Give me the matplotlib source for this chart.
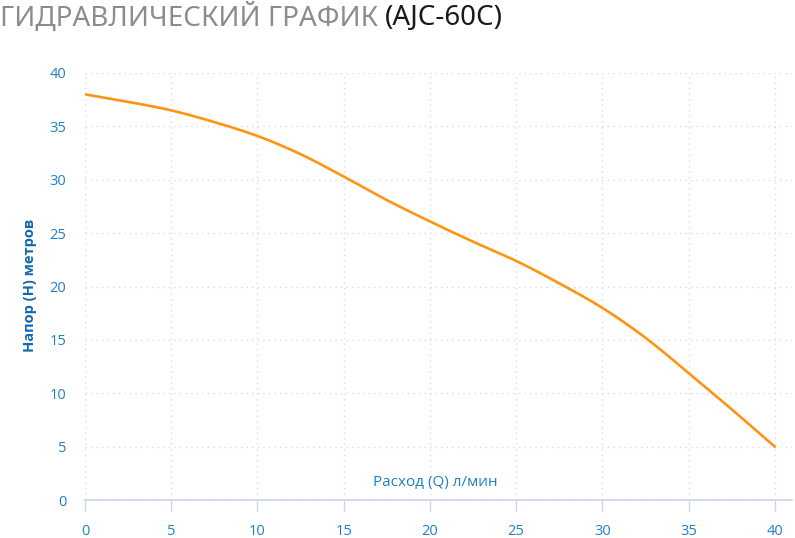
import numpy as np
import matplotlib
matplotlib.use("Agg")
import matplotlib.pyplot as plt

# Data
flow_lpm = [0, 2.5, 5, 7.5, 10, 12.5, 15, 17.5, 20, 22.5, 25, 27.5, 30, 32.5, 35, 37.5, 40]
head_m = [38.0, 37.3, 36.5, 35.4, 34.1, 32.4, 30.3, 28.1, 26.1, 24.2, 22.4, 20.3, 18.0, 15.2, 11.9, 8.5, 5.0]
x_ticks = [0, 5, 10, 15, 20, 25, 30, 35, 40]
y_ticks = [0, 5, 10, 15, 20, 25, 30, 35, 40]

title_main = "ГИДРАВЛИЧЕСКИЙ ГРАФИК "
title_model = "(AJC-60C)"
x_label = "Расход (Q) л/мин"
y_label = "Напор (H) метров"


def smooth_curve(x, y, n=400):
    """Cubic Hermite (Catmull-Rom tangents) drawing of the line (line smoothing)."""
    x = np.asarray(x, float)
    y = np.asarray(y, float)
    h = np.diff(x)
    d = np.diff(y) / h
    m = np.zeros_like(y)
    m[0], m[-1] = d[0], d[-1]
    m[1:-1] = (y[2:] - y[:-2]) / (x[2:] - x[:-2])
    xs = np.linspace(x[0], x[-1], n)
    idx = np.clip(np.searchsorted(x, xs) - 1, 0, len(x) - 2)
    t = (xs - x[idx]) / h[idx]
    h00 = 2 * t**3 - 3 * t**2 + 1
    h10 = t**3 - 2 * t**2 + t
    h01 = -2 * t**3 + 3 * t**2
    h11 = t**3 - t**2
    ys = h00 * y[idx] + h10 * h[idx] * m[idx] + h01 * y[idx + 1] + h11 * h[idx] * m[idx + 1]
    return xs, ys


blue = "#2080c4"
label_blue = "#1168b0"
axis_col = "#c9d3ea"
grid_col = "#dcdcdc"

fig = plt.figure(figsize=(7.95, 5.38), dpi=100)
ax = fig.add_axes([85 / 795, 1 - 500 / 538, (792 - 85) / 795, (500 - 73) / 538])

xs, ys = smooth_curve(flow_lpm, head_m)
ax.plot(xs, ys, color="#ff9412", lw=1.9, solid_capstyle="round", zorder=3)

ax.set_xlim(0, 41)
ax.set_ylim(0, 40)
ax.set_xticks(x_ticks)
ax.set_yticks(y_ticks)
ax.grid(True, color=grid_col, linestyle=(0, (1, 3)), linewidth=1.0)

for s in ["top", "right", "left"]:
    ax.spines[s].set_visible(False)
ax.spines["bottom"].set_color(axis_col)
ax.spines["bottom"].set_linewidth(1.2)

ax.tick_params(axis="x", colors=axis_col, length=8, width=1.0, pad=9,
               labelcolor=blue, labelsize=10.5)
ax.tick_params(axis="y", length=0, pad=13.5, labelcolor=blue, labelsize=10.5)
for lab in ax.get_xticklabels() + ax.get_yticklabels():
    lab.set_fontfamily("Open Sans")

ax.text(20.3, 0.9, x_label, color=blue, fontsize=11, ha="center", va="bottom",
        fontfamily="Open Sans")
fig.text(30 / 795, 1 - 285 / 538, y_label, color=label_blue, fontsize=10.5, fontweight="bold",
         rotation=90, ha="center", va="center", fontfamily="Open Sans")

title_fp = dict(fontfamily=["Noto Sans", "DejaVu Sans"], fontweight="light", fontsize=20)
t1 = fig.text(0.0, 1 - 18 / 538, title_main, color="#8c8c8c",
              ha="left", va="center", **title_fp)
fig.canvas.draw()
bb = t1.get_window_extent()
fig.text(bb.x1 / 795, 1 - 18 / 538, title_model, color="#1a1a1a",
         ha="left", va="center", **title_fp)

fig.savefig("out.png", dpi=100, facecolor="white")
